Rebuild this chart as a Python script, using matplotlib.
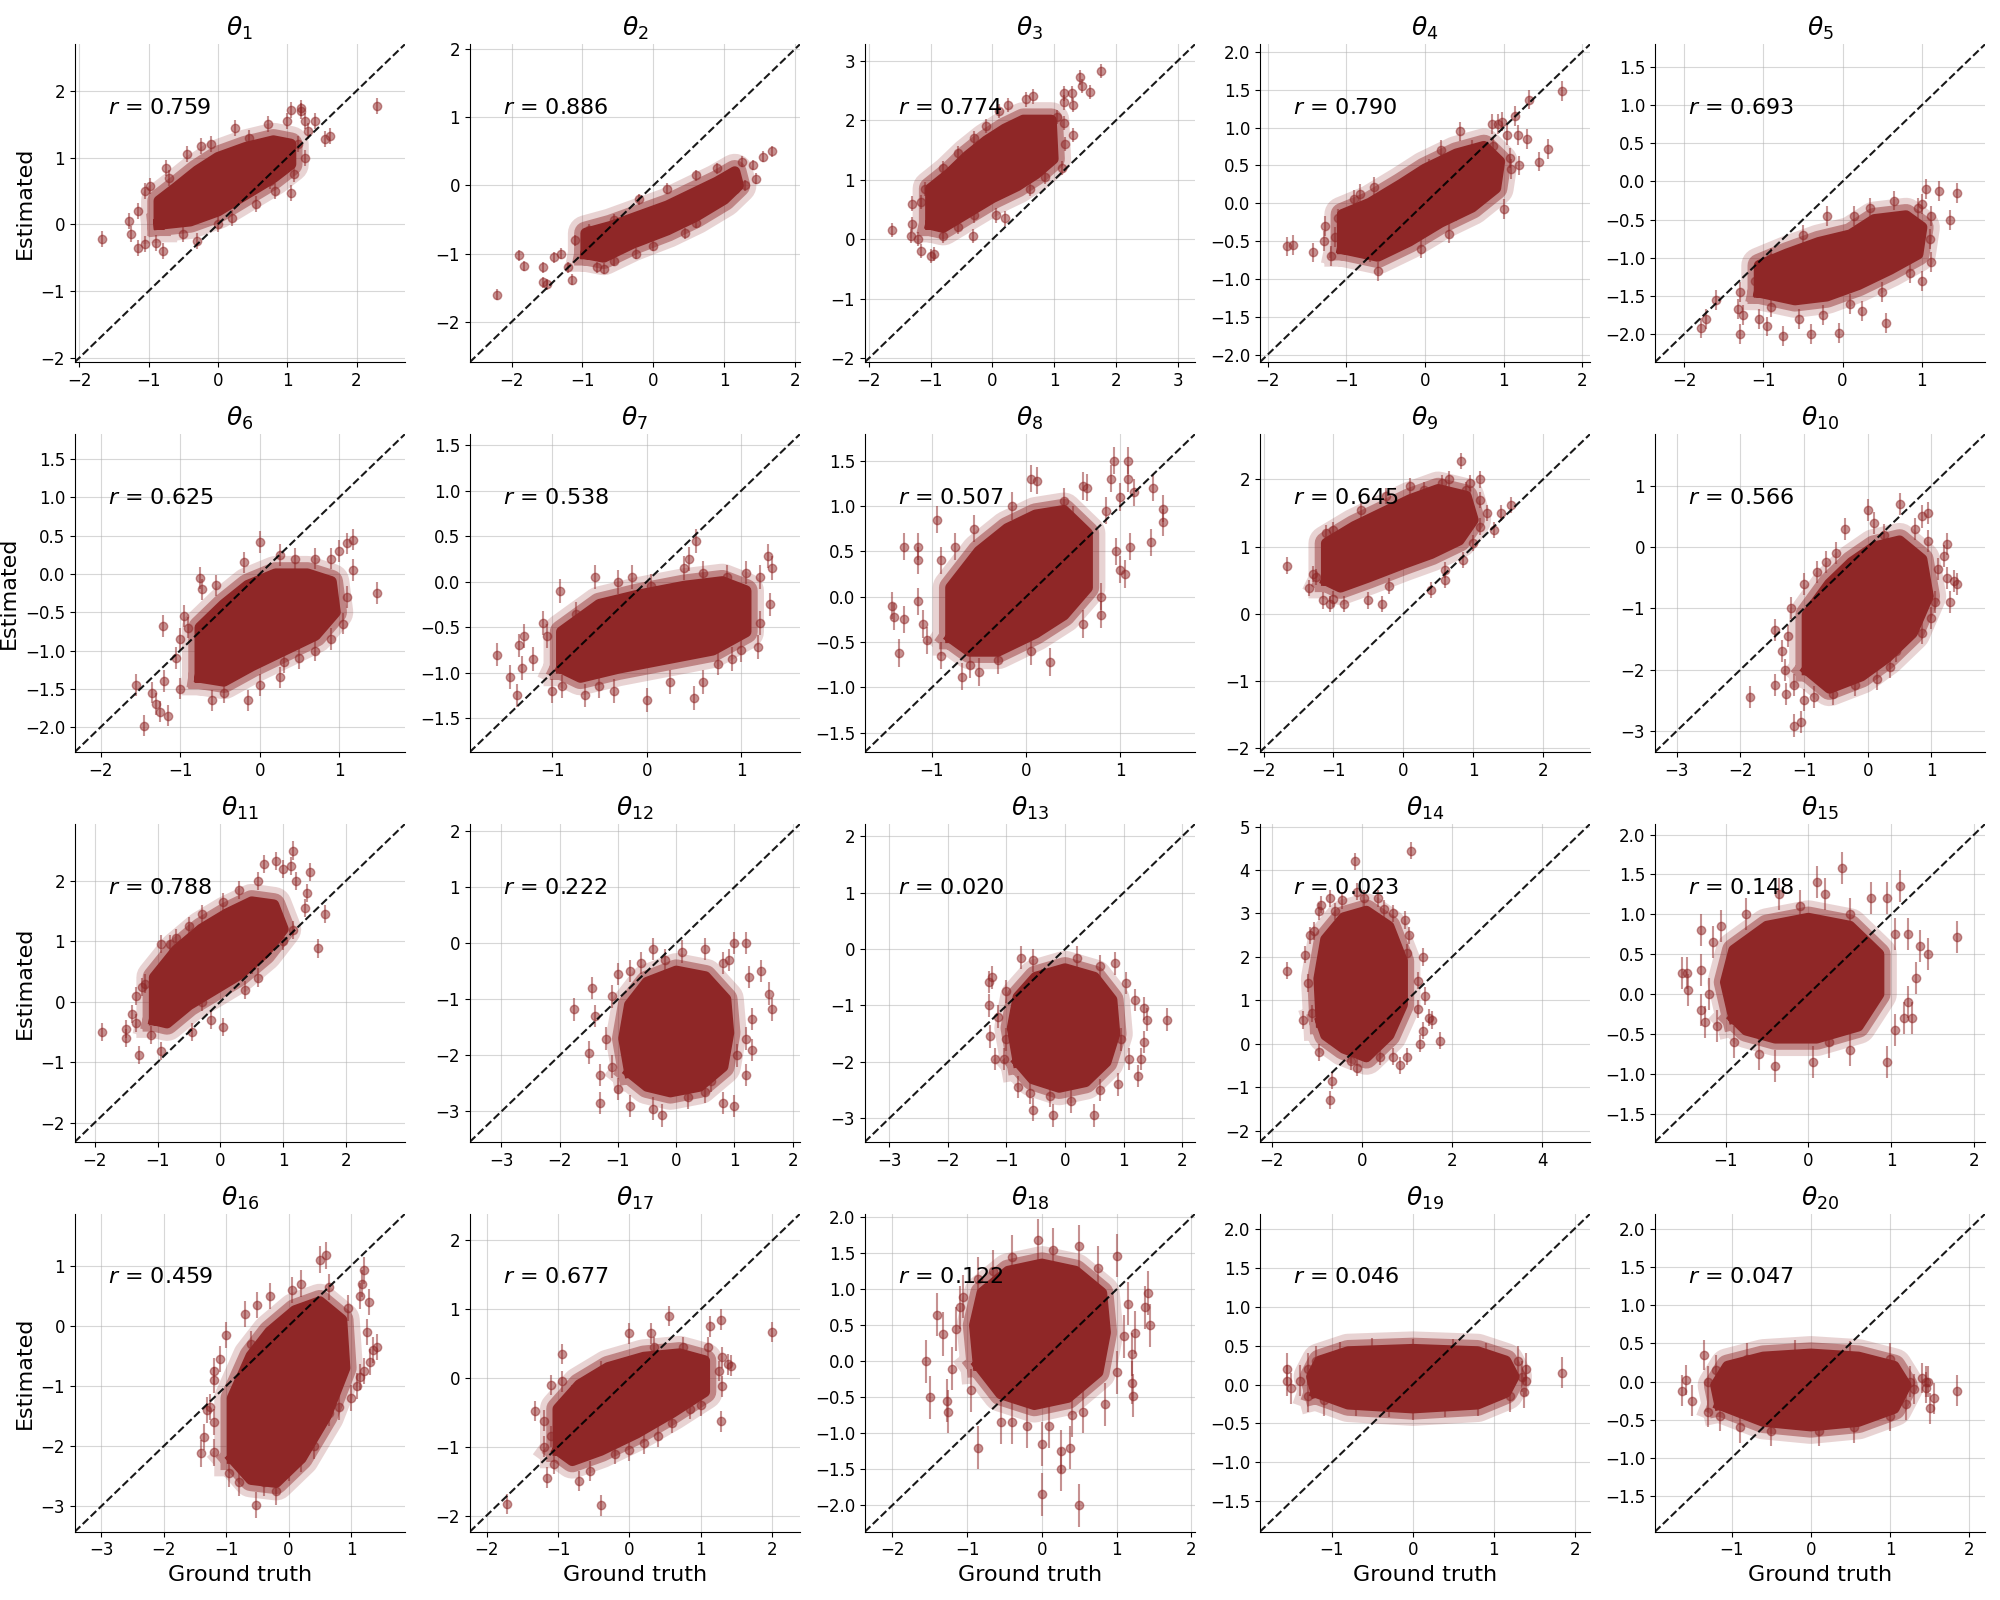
import numpy as np
import matplotlib
matplotlib.use("Agg")
import matplotlib.pyplot as plt

COLOR = "#8f2727"

r_values = [0.759, 0.886, 0.774, 0.790, 0.693, 0.625, 0.538, 0.507, 0.645, 0.566,
            0.788, 0.222, 0.020, 0.023, 0.148, 0.459, 0.677, 0.122, 0.046, 0.047]

# typical half-length of the vertical error bars in each panel
errors = [0.12, 0.08, 0.12, 0.13, 0.13, 0.14, 0.13, 0.15, 0.12, 0.18,
          0.15, 0.20, 0.20, 0.20, 0.20, 0.22, 0.15, 0.30, 0.20, 0.20]

# dense core of each cloud (ground truth, estimate) outline
core_1 = [(-0.85, 0.0), (-0.85, 0.35), (-0.6, 0.55), (-0.3, 0.8), (0.0, 1.0), (0.4, 1.15), (0.8, 1.25),
          (1.05, 1.2), (1.05, 0.9), (0.8, 0.7), (0.4, 0.45), (0.0, 0.2), (-0.4, 0.05)]
core_2 = [(-0.95, -1.0), (-0.95, -0.7), (-0.6, -0.6), (-0.2, -0.45), (0.2, -0.3), (0.6, -0.1), (0.9, 0.05),
          (1.15, 0.2), (1.2, 0.0), (1.0, -0.2), (0.6, -0.45), (0.2, -0.65), (-0.3, -0.85), (-0.7, -1.05)]
core_3 = [(-1.0, 0.25), (-1.0, 0.85), (-0.7, 1.1), (-0.4, 1.4), (-0.1, 1.65), (0.2, 1.85), (0.5, 2.0),
          (0.95, 2.0), (0.98, 1.35), (0.7, 1.1), (0.4, 0.9), (0.0, 0.7), (-0.4, 0.45), (-0.8, 0.2)]
core_4 = [(-1.05, -0.6), (-1.05, -0.15), (-0.7, 0.0), (-0.3, 0.25), (0.0, 0.45), (0.4, 0.65), (0.75, 0.75),
          (0.95, 0.55), (0.9, 0.2), (0.6, -0.05), (0.2, -0.25), (-0.2, -0.5), (-0.6, -0.7)]
core_5 = [(-1.05, -1.45), (-1.05, -1.1), (-0.7, -0.95), (-0.3, -0.8), (0.1, -0.7), (0.4, -0.5), (0.8, -0.45),
          (1.0, -0.6), (0.95, -0.95), (0.6, -1.15), (0.2, -1.35), (-0.2, -1.5), (-0.6, -1.55)]
core_6 = [(-0.75, -1.35), (-0.75, -0.7), (-0.45, -0.4), (-0.15, -0.15), (0.2, 0.0), (0.6, 0.0), (0.9, -0.1),
          (0.95, -0.5), (0.7, -0.8), (0.3, -1.0), (-0.1, -1.2), (-0.45, -1.4)]
core_7 = [(-0.9, -0.95), (-0.9, -0.55), (-0.5, -0.25), (-0.1, -0.15), (0.4, -0.05), (0.8, 0.0), (1.05, -0.1),
          (1.05, -0.55), (0.7, -0.75), (0.2, -0.85), (-0.3, -0.95), (-0.7, -1.05)]
core_8 = [(-0.8, -0.45), (-0.8, 0.1), (-0.5, 0.5), (-0.2, 0.75), (0.1, 0.9), (0.4, 0.95), (0.65, 0.7),
          (0.65, 0.1), (0.4, -0.2), (0.1, -0.4), (-0.3, -0.6), (-0.6, -0.6)]
core_9 = [(-1.1, 0.5), (-1.1, 1.05), (-0.7, 1.3), (-0.3, 1.5), (0.1, 1.7), (0.5, 1.85), (0.9, 1.75),
          (1.0, 1.4), (0.8, 1.1), (0.4, 0.9), (0.0, 0.75), (-0.5, 0.55), (-0.9, 0.4)]
core_10 = [(-0.95, -2.0), (-0.95, -1.1), (-0.6, -0.6), (-0.25, -0.25), (0.1, 0.0), (0.5, 0.1), (0.85, -0.2),
           (0.95, -0.8), (0.7, -1.4), (0.3, -1.8), (-0.1, -2.1), (-0.6, -2.3)]
core_11 = [(-1.05, -0.3), (-1.05, 0.4), (-0.7, 0.85), (-0.3, 1.2), (0.1, 1.45), (0.5, 1.65), (0.85, 1.6),
           (1.0, 1.2), (0.7, 0.8), (0.3, 0.45), (-0.1, 0.2), (-0.5, -0.05), (-0.85, -0.35)]
core_12 = [(-0.8, -2.3), (-0.9, -1.7), (-0.8, -1.1), (-0.5, -0.7), (0.0, -0.5), (0.5, -0.6), (0.85, -1.0),
           (0.9, -1.6), (0.8, -2.2), (0.4, -2.55), (-0.1, -2.65), (-0.5, -2.55)]
core_13 = [(-0.8, -2.0), (-0.9, -1.4), (-0.8, -0.85), (-0.5, -0.5), (0.0, -0.35), (0.5, -0.5), (0.8, -0.9),
           (0.85, -1.5), (0.7, -2.0), (0.35, -2.35), (-0.1, -2.45), (-0.55, -2.3)]
core_14 = [(-0.9, 0.5), (-0.95, 1.5), (-0.8, 2.4), (-0.4, 2.9), (0.1, 3.05), (0.6, 2.7), (0.9, 1.9),
           (0.9, 0.9), (0.6, 0.2), (0.1, -0.3), (-0.4, -0.1), (-0.8, 0.2)]
core_15 = [(-0.9, -0.3), (-1.0, 0.15), (-0.9, 0.55), (-0.5, 0.85), (0.0, 0.95), (0.5, 0.85), (0.85, 0.5),
           (0.85, 0.0), (0.6, -0.4), (0.1, -0.55), (-0.4, -0.55), (-0.75, -0.45)]
core_16 = [(-0.9, -2.2), (-0.9, -1.2), (-0.6, -0.5), (-0.3, -0.1), (0.1, 0.25), (0.5, 0.4), (0.85, 0.1),
           (0.9, -0.7), (0.6, -1.5), (0.2, -2.2), (-0.2, -2.6), (-0.6, -2.55)]
core_17 = [(-1.0, -1.05), (-1.0, -0.45), (-0.7, -0.1), (-0.3, 0.15), (0.2, 0.3), (0.7, 0.35), (1.05, 0.25),
           (1.05, -0.2), (0.6, -0.5), (0.1, -0.8), (-0.4, -1.05), (-0.8, -1.2)]
core_18 = [(-0.85, -0.05), (-0.9, 0.5), (-0.8, 0.95), (-0.45, 1.25), (0.0, 1.35), (0.45, 1.25), (0.8, 0.95),
           (0.85, 0.4), (0.75, -0.15), (0.35, -0.5), (-0.1, -0.6), (-0.55, -0.45)]
core_19 = [(-1.2, -0.1), (-1.25, 0.1), (-1.15, 0.3), (-0.8, 0.42), (0.0, 0.45), (0.8, 0.42), (1.15, 0.3),
           (1.25, 0.1), (1.15, -0.1), (0.8, -0.25), (0.0, -0.3), (-0.8, -0.25)]
core_20 = [(-1.15, -0.3), (-1.2, -0.05), (-1.05, 0.2), (-0.6, 0.32), (0.0, 0.36), (0.6, 0.32), (1.05, 0.2),
           (1.2, -0.05), (1.05, -0.35), (0.6, -0.52), (0.0, -0.58), (-0.6, -0.52)]

# individually visible draws (ground truth, estimate)
points_1 = [(-1.67, -0.22), (2.3, 1.78), (1.2, 1.75), (1.2, 1.7), (1.05, 1.72), (1.25, 1.55), (1.4, 1.55),
            (1.55, 1.28), (1.62, 1.32), (1.0, 1.55), (0.72, 1.5), (0.25, 1.45), (-0.1, 1.2), (-0.25, 1.18),
            (-0.45, 1.05), (-0.75, 0.85), (-0.98, 0.58), (-1.05, 0.5), (-1.28, 0.05), (-1.25, -0.15),
            (-1.15, -0.35), (-1.05, -0.3), (-0.8, -0.4), (-0.9, -0.28), (-0.3, -0.25), (0.2, 0.1), (0.55, 0.3),
            (0.83, 0.5), (1.05, 0.47), (1.1, 0.75), (1.25, 1.0), (0.75, 0.65), (-0.5, -0.15), (0.0, 0.0),
            (-1.15, 0.2), (-0.7, 0.7), (0.45, 1.3), (1.15, 1.2), (1.3, 1.4)]
points_2 = [(-2.2, -1.6), (-1.9, -1.02), (-1.83, -1.18), (-1.55, -1.42), (-1.5, -1.45), (-1.15, -1.38),
            (-1.55, -1.2), (-1.4, -1.05), (-1.3, -1.0), (-1.1, -0.8), (-1.2, -1.2), (-0.8, -1.2), (-0.7, -1.22),
            (-0.55, -1.1), (-0.25, -1.0), (0.0, -0.88), (-0.2, -0.2), (-0.55, -0.5), (0.2, -0.05), (0.6, 0.15),
            (0.6, -0.55), (0.85, -0.2), (0.9, 0.25), (1.1, 0.1), (1.15, -0.05), (1.25, 0.35), (1.3, 0.0),
            (1.4, 0.3), (1.45, 0.1), (1.55, 0.42), (1.68, 0.5), (0.45, -0.7), (-0.9, -0.65), (1.05, -0.1)]
points_3 = [(-1.62, 0.15), (-1.3, 0.25), (-1.32, 0.05), (-1.15, -0.2), (-1.0, -0.28), (-0.95, -0.25),
            (-1.2, 0.0), (-1.3, 0.6), (-1.1, 0.85), (-1.15, 0.62), (-0.8, 0.05), (-0.8, 1.2), (-0.55, 1.45),
            (-0.3, 1.7), (-0.1, 1.9), (0.1, 2.15), (0.25, 2.25), (0.55, 2.35), (0.65, 2.4), (1.15, 2.45),
            (1.28, 2.45), (1.42, 2.72), (1.45, 2.57), (1.58, 2.48), (1.75, 2.83), (1.3, 2.25), (1.15, 2.3),
            (1.17, 1.6), (1.3, 1.75), (1.12, 1.2), (1.05, 2.05), (0.85, 1.05), (0.6, 0.85), (0.3, 0.9),
            (-0.32, 0.05), (0.05, 0.4), (-0.3, 0.4), (-0.55, 0.2), (0.2, 0.35), (1.15, 1.95)]
points_4 = [(-1.75, -0.57), (-1.68, -0.55), (-1.42, -0.65), (-1.27, -0.3), (-1.28, -0.5), (-1.2, -0.7),
            (-1.1, -0.2), (-1.15, -0.45), (-0.9, 0.05), (-0.82, 0.12), (-0.65, 0.22), (-0.6, -0.9),
            (-0.7, -0.65), (-0.45, -0.55), (0.3, -0.4), (-0.05, -0.6), (0.05, 0.45), (0.2, 0.7), (0.45, 0.95),
            (0.6, 0.7), (0.85, 1.05), (0.87, 0.75), (0.93, 1.05), (0.98, 1.08), (1.05, 0.9), (1.08, 0.6),
            (1.1, 0.45), (1.2, 0.5), (1.18, 0.9), (1.3, 0.85), (1.32, 1.37), (1.45, 0.55), (1.57, 0.72),
            (1.75, 1.48), (1.0, -0.08), (0.75, 0.25), (0.4, -0.1), (1.15, 1.15)]
points_5 = [(-1.78, -1.92), (-1.72, -1.8), (-1.6, -1.55), (-1.32, -1.67), (-1.3, -2.0), (-1.3, -1.45),
            (-1.25, -1.75), (-1.05, -1.8), (-0.95, -1.9), (-0.9, -1.65), (-0.75, -2.02), (-0.55, -1.8),
            (-0.4, -2.0), (-0.25, -1.75), (-0.05, -1.98), (0.1, -1.6), (0.25, -1.7), (0.55, -1.85),
            (-0.2, -0.45), (0.15, -0.45), (0.35, -0.35), (0.65, -0.25), (0.95, -0.35), (1.05, -0.1),
            (1.0, -0.3), (1.12, -0.45), (1.22, -0.12), (1.35, -0.5), (1.45, -0.15), (1.1, -0.75),
            (1.12, -1.05), (1.0, -1.3), (0.85, -1.2), (0.5, -1.45), (-0.5, -0.7), (-0.9, -1.0), (-1.1, -1.3)]
points_6 = [(-1.45, -1.98), (-1.55, -1.45), (-1.35, -1.55), (-1.3, -1.7), (-1.25, -1.8), (-1.15, -1.85),
            (-1.2, -1.4), (-1.05, -1.1), (-1.0, -0.85), (-1.0, -1.5), (-0.95, -0.55), (-0.9, -0.7),
            (-1.22, -0.68), (-0.75, -0.05), (-0.72, -0.2), (-0.55, -0.15), (-0.6, -1.65), (-0.45, -1.55),
            (-0.15, -1.65), (0.0, -1.45), (0.25, -1.35), (0.3, -1.15), (0.5, -1.1), (0.0, 0.42), (-0.2, 0.15),
            (0.25, 0.25), (0.45, 0.2), (0.7, 0.2), (0.9, 0.2), (1.0, 0.3), (1.1, 0.4), (1.17, 0.45),
            (1.18, 0.05), (1.1, -0.3), (1.05, -0.65), (0.9, -0.85), (1.48, -0.25), (0.7, -1.0), (-0.3, -0.5)]
points_7 = [(-1.58, -0.8), (-1.45, -1.05), (-1.37, -1.25), (-1.35, -0.7), (-1.3, -0.6), (-1.32, -0.95),
            (-1.2, -0.85), (-1.1, -0.45), (-1.05, -0.6), (-0.92, -0.1), (-1.0, -1.2), (-0.9, -1.15),
            (-0.65, -1.25), (-0.5, -1.15), (-0.35, -1.2), (0.0, -1.3), (0.25, -1.1), (0.5, -1.28), (0.6, -1.1),
            (0.75, -0.9), (0.9, -0.85), (1.0, -0.75), (1.18, -0.72), (-0.55, 0.05), (-0.3, 0.0), (-0.15, 0.05),
            (0.05, -0.05), (0.45, 0.25), (0.52, 0.45), (0.4, 0.15), (0.6, 0.1), (0.85, 0.05), (1.05, 0.1),
            (1.2, 0.05), (1.28, 0.28), (1.33, 0.15), (1.3, -0.25), (1.2, -0.45), (-0.75, -0.35)]
points_8 = [(-1.42, -0.1), (-1.4, -0.22), (-1.3, -0.25), (-1.35, -0.62), (-1.3, 0.55), (-1.15, 0.55),
            (-1.15, 0.4), (-1.1, -0.3), (-1.15, -0.05), (-1.05, -0.48), (-0.95, 0.85), (-0.9, 0.4),
            (-0.75, 0.55), (-0.9, -0.65), (-0.68, -0.88), (-0.5, -0.83), (-0.3, -0.7), (0.05, -0.6),
            (0.25, -0.72), (-0.6, -0.75), (-0.55, 0.75), (-0.15, 1.0), (0.05, 1.3), (0.12, 1.28), (0.4, 1.05),
            (0.6, 1.22), (0.65, 1.2), (0.5, 0.85), (0.85, 0.95), (0.95, 0.5), (1.0, 0.3), (0.9, 1.3),
            (0.93, 1.5), (1.08, 1.5), (1.08, 1.3), (1.0, 1.1), (1.15, 1.15), (1.35, 1.2), (1.45, 0.82),
            (1.45, 0.97), (1.33, 0.6), (1.1, 0.55), (1.05, 0.25), (0.8, -0.2), (0.6, -0.3), (0.8, 0.0)]
points_9 = [(-1.66, 0.72), (-1.3, 0.6), (-1.25, 0.55), (-1.35, 0.38), (-1.15, 0.2), (-1.05, 0.15),
            (-1.0, 0.22), (-0.85, 0.15), (-0.5, 0.2), (-0.3, 0.15), (-0.2, 0.42), (-1.1, 1.2), (-1.0, 1.25),
            (-0.6, 1.55), (-0.25, 1.75), (0.1, 1.9), (0.3, 1.85), (0.55, 1.95), (0.65, 2.0), (0.82, 2.28),
            (0.95, 1.95), (1.1, 2.0), (0.9, 1.85), (1.1, 1.7), (1.2, 1.5), (1.3, 1.25), (1.55, 1.62),
            (1.4, 1.5), (1.0, 1.05), (0.85, 0.8), (0.6, 0.65), (0.4, 0.35), (1.1, 1.3), (0.6, 0.5)]
points_10 = [(-1.85, -2.45), (-1.45, -2.25), (-1.28, -2.4), (-1.25, -1.45), (-1.45, -1.35), (-1.35, -1.7),
             (-1.3, -2.0), (-1.15, -2.91), (-1.05, -2.85), (-1.15, -2.25), (-1.2, -1.0), (-1.0, -2.5),
             (-0.85, -2.45), (-0.55, -2.4), (-0.2, -2.25), (0.15, -2.15), (0.35, -1.95), (0.45, -1.7),
             (0.55, -1.45), (0.85, -1.4), (1.0, -1.15), (1.05, -0.9), (1.25, -0.5), (1.35, -0.55),
             (1.41, -0.6), (1.3, -0.9), (1.1, -0.35), (1.25, 0.05), (1.2, -0.15), (0.95, 0.1), (0.85, 0.5),
             (0.95, 0.55), (0.75, 0.3), (0.5, 0.7), (0.1, 0.4), (0.0, 0.6), (-0.35, 0.3), (-0.65, -0.25),
             (-0.5, -0.1), (-1.0, -0.6), (-0.8, -0.4), (0.25, 0.2)]
points_11 = [(-1.88, -0.5), (-1.5, -0.6), (-1.5, -0.45), (-1.4, -0.2), (-1.35, -0.35), (-1.3, -0.88),
             (-1.35, 0.1), (-1.25, 0.25), (-1.2, 0.3), (-1.1, -0.55), (-0.95, -0.82), (-0.95, 0.95),
             (-0.8, 0.95), (-0.7, 1.05), (-0.5, 1.25), (-0.3, 1.45), (0.05, 1.65), (0.3, 1.85), (0.6, 2.0),
             (0.7, 2.28), (0.88, 2.32), (1.15, 2.5), (1.12, 2.25), (1.0, 2.2), (1.2, 2.0), (1.43, 2.15),
             (1.38, 1.8), (1.35, 1.55), (1.67, 1.45), (1.15, 1.18), (1.55, 0.88), (1.0, 1.0), (0.6, 0.4),
             (0.4, 0.2), (0.05, -0.42), (-0.15, -0.3), (-0.45, -0.5), (0.5, 0.6), (-0.3, 0.0)]
points_12 = [(-1.75, -1.18), (-1.45, -0.8), (-1.4, -1.3), (-1.5, -1.95), (-1.3, -2.35), (-1.3, -2.85),
             (-1.2, -1.7), (-1.1, -2.2), (-1.0, -2.6), (-0.8, -2.9), (-0.4, -2.95), (-0.25, -3.07),
             (0.2, -2.75), (0.5, -2.65), (0.8, -2.85), (1.0, -2.9), (1.2, -2.35), (1.05, -2.0), (1.2, -1.7),
             (1.3, -1.35), (1.45, -0.5), (1.6, -0.9), (1.65, -1.18), (1.25, -0.6), (1.2, 0.0), (1.0, 0.0),
             (0.8, -0.35), (0.5, -0.1), (0.1, -0.15), (-0.4, -0.1), (-0.6, -0.35), (-0.8, -0.5), (-1.0, -0.55),
             (-1.1, -0.95), (-0.2, -0.3), (0.9, -0.3), (1.3, -1.9), (0.6, -2.45)]
points_13 = [(-1.3, -0.58), (-1.25, -0.5), (-1.3, -1.0), (-1.28, -1.55), (-1.2, -1.95), (-1.05, -1.95),
             (-1.15, -1.2), (-1.0, -0.75), (-0.8, -2.45), (-0.6, -2.55), (-0.55, -2.85), (-0.25, -2.6),
             (-0.2, -2.95), (0.1, -2.7), (0.5, -2.95), (0.6, -2.5), (0.9, -2.4), (1.25, -2.25), (1.3, -1.95),
             (1.35, -1.65), (1.1, -1.95), (1.4, -1.25), (1.35, -1.05), (1.2, -0.9), (1.75, -1.25), (1.05, -0.6),
             (0.85, -0.25), (0.6, -0.3), (0.2, -0.15), (-0.75, -0.15), (-0.4, -0.55), (-0.55, -0.2),
             (0.95, -1.6), (-1.0, -1.6)]
points_14 = [(-1.65, 1.68), (-1.3, 0.55), (-1.2, 1.4), (-1.25, 2.05), (-1.15, 2.5), (-1.05, 2.6), (-0.95, 3.05),
             (-0.9, 3.2), (-0.7, 3.35), (-0.6, 3.05), (-0.45, 3.3), (-0.15, 4.2), (-0.1, 3.5), (0.05, 3.35),
             (0.35, 3.35), (0.5, 3.1), (0.7, 3.0), (0.95, 2.85), (1.1, 4.45), (1.05, 2.5), (1.0, 2.1),
             (1.35, 2.0), (1.25, 1.45), (1.4, 1.1), (1.55, 0.55), (1.5, 0.6), (1.35, 0.3), (1.73, 0.07),
             (1.3, 0.0), (1.0, -0.3), (0.7, -0.3), (0.4, -0.3), (-0.1, -0.55), (-0.25, -0.4), (-0.65, -0.85),
             (-0.95, -0.2), (-0.7, -1.3), (-1.1, 0.7), (0.85, -0.5), (1.25, 0.8)]
points_15 = [(-1.52, 0.27), (-1.47, 0.27), (-1.45, 0.05), (-1.3, 0.3), (-1.3, -0.2), (-1.25, -0.35),
             (-1.3, 0.8), (-1.15, 0.65), (-1.2, 0.0), (-1.1, -0.4), (-1.05, 0.85), (-0.9, -0.6), (-0.75, 1.0),
             (-0.6, -0.75), (-0.4, -0.9), (-0.35, 1.25), (-0.1, 1.1), (0.1, 1.4), (0.2, 1.25), (0.4, 1.58),
             (0.5, 1.0), (0.75, 1.2), (0.95, 1.2), (1.1, 1.35), (1.05, 0.75), (1.2, 0.75), (1.35, 0.6),
             (1.45, 0.5), (1.3, 0.2), (1.2, -0.1), (1.25, -0.3), (1.05, -0.45), (0.95, -0.85), (0.5, -0.7),
             (0.25, -0.6), (0.05, -0.85), (1.8, 0.72), (1.15, -0.3), (-0.8, 0.3)]
points_16 = [(-1.4, -2.12), (-1.35, -1.85), (-1.2, -2.1), (-1.3, -1.4), (-1.25, -1.35), (-1.2, -1.6),
             (-1.2, -0.9), (-1.1, -0.55), (-1.0, -0.15), (-1.2, -0.75), (-0.95, -2.45), (-0.8, -2.6),
             (-0.52, -2.98), (-0.4, -2.6), (-0.2, -2.75), (0.0, -2.35), (0.2, -2.2), (0.4, -2.0), (0.65, -1.45),
             (0.8, -1.35), (1.0, -1.2), (1.1, -1.0), (1.2, -0.75), (1.25, -0.1), (1.35, -0.4), (1.42, -0.35),
             (1.3, -0.6), (1.28, 0.4), (1.15, 0.5), (1.18, 0.7), (1.2, 0.92), (0.6, 1.17), (0.5, 1.1),
             (0.65, 0.65), (0.2, 0.7), (0.05, 0.6), (-0.3, 0.5), (-0.5, 0.35), (-0.7, 0.2), (-0.6, -0.3),
             (0.95, 0.3), (1.15, -0.85)]
points_17 = [(-1.72, -1.83), (-1.32, -0.48), (-1.2, -0.62), (-1.2, -1.0), (-1.1, -0.85), (-1.15, -1.45),
             (-1.05, -1.25), (-1.1, -0.1), (-0.95, 0.35), (-0.95, -0.05), (-0.8, -0.25), (-0.7, -1.5),
             (-0.55, -1.35), (-0.4, -1.85), (-0.2, -1.1), (0.0, -1.05), (0.2, -0.95), (0.4, -0.85), (0.6, -0.65),
             (0.85, -0.45), (-0.4, 0.1), (0.0, 0.65), (0.3, 0.65), (0.55, 0.9), (0.35, 0.45), (0.75, 0.45),
             (1.1, 0.45), (1.12, 0.75), (1.28, 0.85), (1.3, 0.3), (1.38, 0.2), (1.42, 0.18), (1.25, 0.1),
             (1.3, -0.12), (1.28, -0.63), (1.0, -0.4), (2.0, 0.67)]
points_18 = [(-1.55, 0.0), (-1.5, -0.5), (-1.4, 0.65), (-1.32, 0.38), (-1.27, -0.55), (-1.25, -0.7),
             (-1.2, -0.1), (-1.15, 0.45), (-1.1, 0.75), (-1.05, 0.9), (-0.95, -0.4), (-0.85, -1.2),
             (-0.55, -0.85), (-0.4, -0.85), (-0.2, -0.9), (0.0, -1.15), (0.1, -0.9), (0.25, -1.25),
             (0.25, -1.5), (0.38, -1.2), (0.0, -1.85), (0.5, -2.0), (0.4, -0.75), (0.55, -0.7), (0.85, -0.6),
             (1.0, -0.15), (1.2, -0.3), (1.22, -0.48), (1.2, 0.1), (1.1, 0.35), (1.25, 0.4), (1.45, 0.5),
             (1.42, 0.95), (1.38, 0.75), (1.15, 0.8), (1.0, 1.47), (0.75, 1.3), (0.5, 1.6), (0.15, 1.55),
             (-0.05, 1.68), (-0.4, 1.45), (-0.65, 1.25), (-0.85, 1.15)]
points_19 = [(-1.55, 0.2), (-1.55, 0.05), (-1.5, -0.05), (-1.4, 0.05), (-1.3, 0.2), (-1.3, -0.15), (-1.2, 0.3),
             (-1.1, -0.2), (-0.9, 0.35), (-0.5, 0.4), (0.0, 0.38), (0.5, 0.38), (0.9, 0.33), (1.3, 0.3),
             (1.4, 0.2), (1.4, 0.05), (1.37, -0.1), (1.35, 0.1), (1.85, 0.15), (1.2, -0.15), (0.8, -0.2),
             (0.0, -0.25), (-0.7, -0.2), (0.4, -0.22), (-0.3, -0.22)]
points_20 = [(-1.62, -0.12), (-1.58, 0.02), (-1.5, -0.25), (-1.35, 0.35), (-1.3, 0.0), (-1.3, -0.4), (-1.2, 0.15),
             (-1.15, -0.45), (-0.9, -0.6), (-0.5, -0.65), (0.1, -0.65), (0.55, -0.6), (1.0, -0.45), (1.2, -0.3),
             (1.25, 0.0), (1.4, 0.05), (1.45, -0.08), (1.5, -0.35), (1.55, -0.22), (1.48, 0.0), (1.85, -0.12),
             (1.3, -0.1), (1.0, 0.3), (0.5, 0.33), (-0.2, 0.35), (-0.8, 0.3), (1.45, 0.0)]

cores = [core_1, core_2, core_3, core_4, core_5, core_6, core_7, core_8, core_9, core_10,
         core_11, core_12, core_13, core_14, core_15, core_16, core_17, core_18, core_19, core_20]
points = [points_1, points_2, points_3, points_4, points_5, points_6, points_7, points_8, points_9, points_10,
          points_11, points_12, points_13, points_14, points_15, points_16, points_17, points_18, points_19,
          points_20]

n_row, n_col = 4, 5
fig, axarr = plt.subplots(n_row, n_col, figsize=(20, 16), dpi=100)
axes = axarr.flat

for i, ax in enumerate(axes):
    pts = np.array(points[i])
    x, y = pts[:, 0], pts[:, 1]
    core = np.array(cores[i])
    cx = np.append(core[:, 0], core[0, 0])
    cy = np.append(core[:, 1], core[0, 1])
    # soft halo around the dense core (overlapping semi-transparent draws)
    ax.plot(cx, cy, color=COLOR, alpha=0.2, lw=26, solid_joinstyle="round", zorder=2)
    ax.plot(cx, cy, color=COLOR, alpha=0.45, lw=17, solid_joinstyle="round", zorder=2)
    ax.plot(cx, cy, color=COLOR, alpha=1.0, lw=8, solid_joinstyle="round", zorder=2)
    ax.fill(core[:, 0], core[:, 1], color=COLOR, alpha=1.0, lw=0, zorder=2)
    ax.errorbar(x, y, yerr=np.full(len(x), errors[i]), fmt="o", alpha=0.5, color=COLOR, zorder=3)

    lower = min(x.min(), y.min())
    upper = max(x.max(), y.max())
    eps = (upper - lower) * 0.1
    ax.set_xlim([lower - eps, upper + eps])
    ax.set_ylim([lower - eps, upper + eps])
    ax.plot([ax.get_xlim()[0], ax.get_xlim()[1]], [ax.get_ylim()[0], ax.get_ylim()[1]],
            color="black", alpha=0.9, linestyle="dashed", zorder=4)
    ax.text(0.1, 0.8, "$r$ = {:.3f}".format(r_values[i]), horizontalalignment="left",
            verticalalignment="center", transform=ax.transAxes, size=16, zorder=5)
    ax.set_title(r"$\theta_{%d}$" % (i + 1), fontsize=18)
    ax.spines["top"].set_visible(False)
    ax.spines["right"].set_visible(False)
    ax.grid(alpha=0.5)
    ax.tick_params(axis="both", which="major", labelsize=12)

for ax in axarr[n_row - 1, :]:
    ax.set_xlabel("Ground truth", fontsize=16)
for ax in axarr[:, 0]:
    ax.set_ylabel("Estimated", fontsize=16)

fig.tight_layout()
fig.savefig("out.png", dpi=100)
